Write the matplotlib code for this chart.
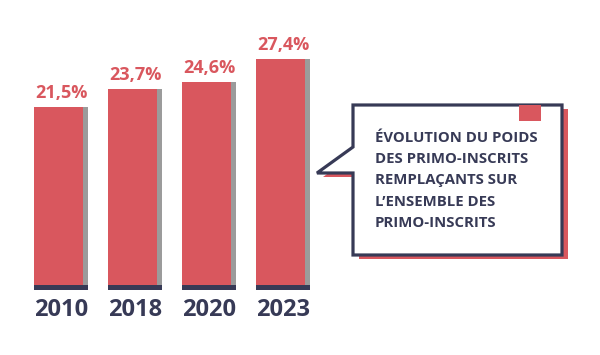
import numpy as np
import matplotlib.pyplot as plt
from matplotlib.patches import Polygon, Rectangle

# data
years = ['2010', '2018', '2020', '2023']
values = [21.5, 23.7, 24.6, 27.4]
value_labels = ['21,5%', '23,7%', '24,6%', '27,4%']
callout_lines = ['ÉVOLUTION DU POIDS', 'DES PRIMO-INSCRITS', 'REMPLAÇANTS SUR',
                 'L\u2019ENSEMBLE DES', 'PRIMO-INSCRITS']

RED = '#d9575e'
GRAY = '#9b9b9b'
NAVY = '#373a56'
W, H = 600, 355

plt.rcParams['font.family'] = ['Open Sans', 'DejaVu Sans']

fig = plt.figure(figsize=(W / 100, H / 100), dpi=100)
ax = fig.add_axes([0, 0, 1, 1])
ax.set_axis_off()

# pixel geometry for the bar axes
step = 74.0          # px between bars
x0 = 61.0            # px centre of first bar
y_zero = 285.0       # px (from top) of value 0
scale = 8.26         # px per percentage point
ax.set_xlim(-x0 / step, (W - x0) / step)
ax.set_ylim(-(H - y_zero) / scale, y_zero / scale)

pos = np.arange(len(years))
left = pos - 27 / step
ax.bar(left + 5 / step, values, width=49 / step, align='edge', color=GRAY, zorder=1)
ax.bar(left, values, width=49 / step, align='edge', color=RED, zorder=2)
ax.bar(left, [-5 / scale] * len(years), width=54 / step, align='edge', color=NAVY, zorder=3)

for p, v, lab in zip(pos, values, value_labels):
    ax.annotate(lab, (p, v), xytext=(0, 6.5), textcoords='offset points',
                ha='center', va='baseline', fontsize=13, fontweight='bold', color=RED)
for p, yr in zip(pos, years):
    ax.text(p, -(316 - y_zero) / scale, yr, ha='center', va='baseline',
            fontsize=17, fontweight='bold', color=NAVY)


# callout box, drawn in figure pixels
def px(pts, dx=0, dy=0):
    return [((x + dx) / W, 1 - (y + dy) / H) for x, y in pts]


outline = [(353, 105), (562, 105), (562, 255), (353, 255), (353, 173),
           (317, 173), (353, 147)]
fig.patches.append(Polygon(px(outline, 6, 4), closed=True, transform=fig.transFigure,
                           facecolor=RED, edgecolor='none', zorder=1))
fig.patches.append(Polygon(px(outline), closed=True, transform=fig.transFigure,
                           facecolor='white', edgecolor=NAVY, linewidth=2.3,
                           joinstyle='miter', zorder=2))
fig.patches.append(Rectangle((519 / W, 1 - 121 / H), 22 / W, 16 / H,
                             transform=fig.transFigure, facecolor=RED,
                             edgecolor='none', zorder=3))
for i, line in enumerate(callout_lines):
    fig.text(375 / W, 1 - (142 + 21.2 * i) / H, line, ha='left', va='baseline',
             fontsize=10.7, fontweight='bold', color=NAVY, zorder=4)

fig.savefig('out.png', dpi=100)
